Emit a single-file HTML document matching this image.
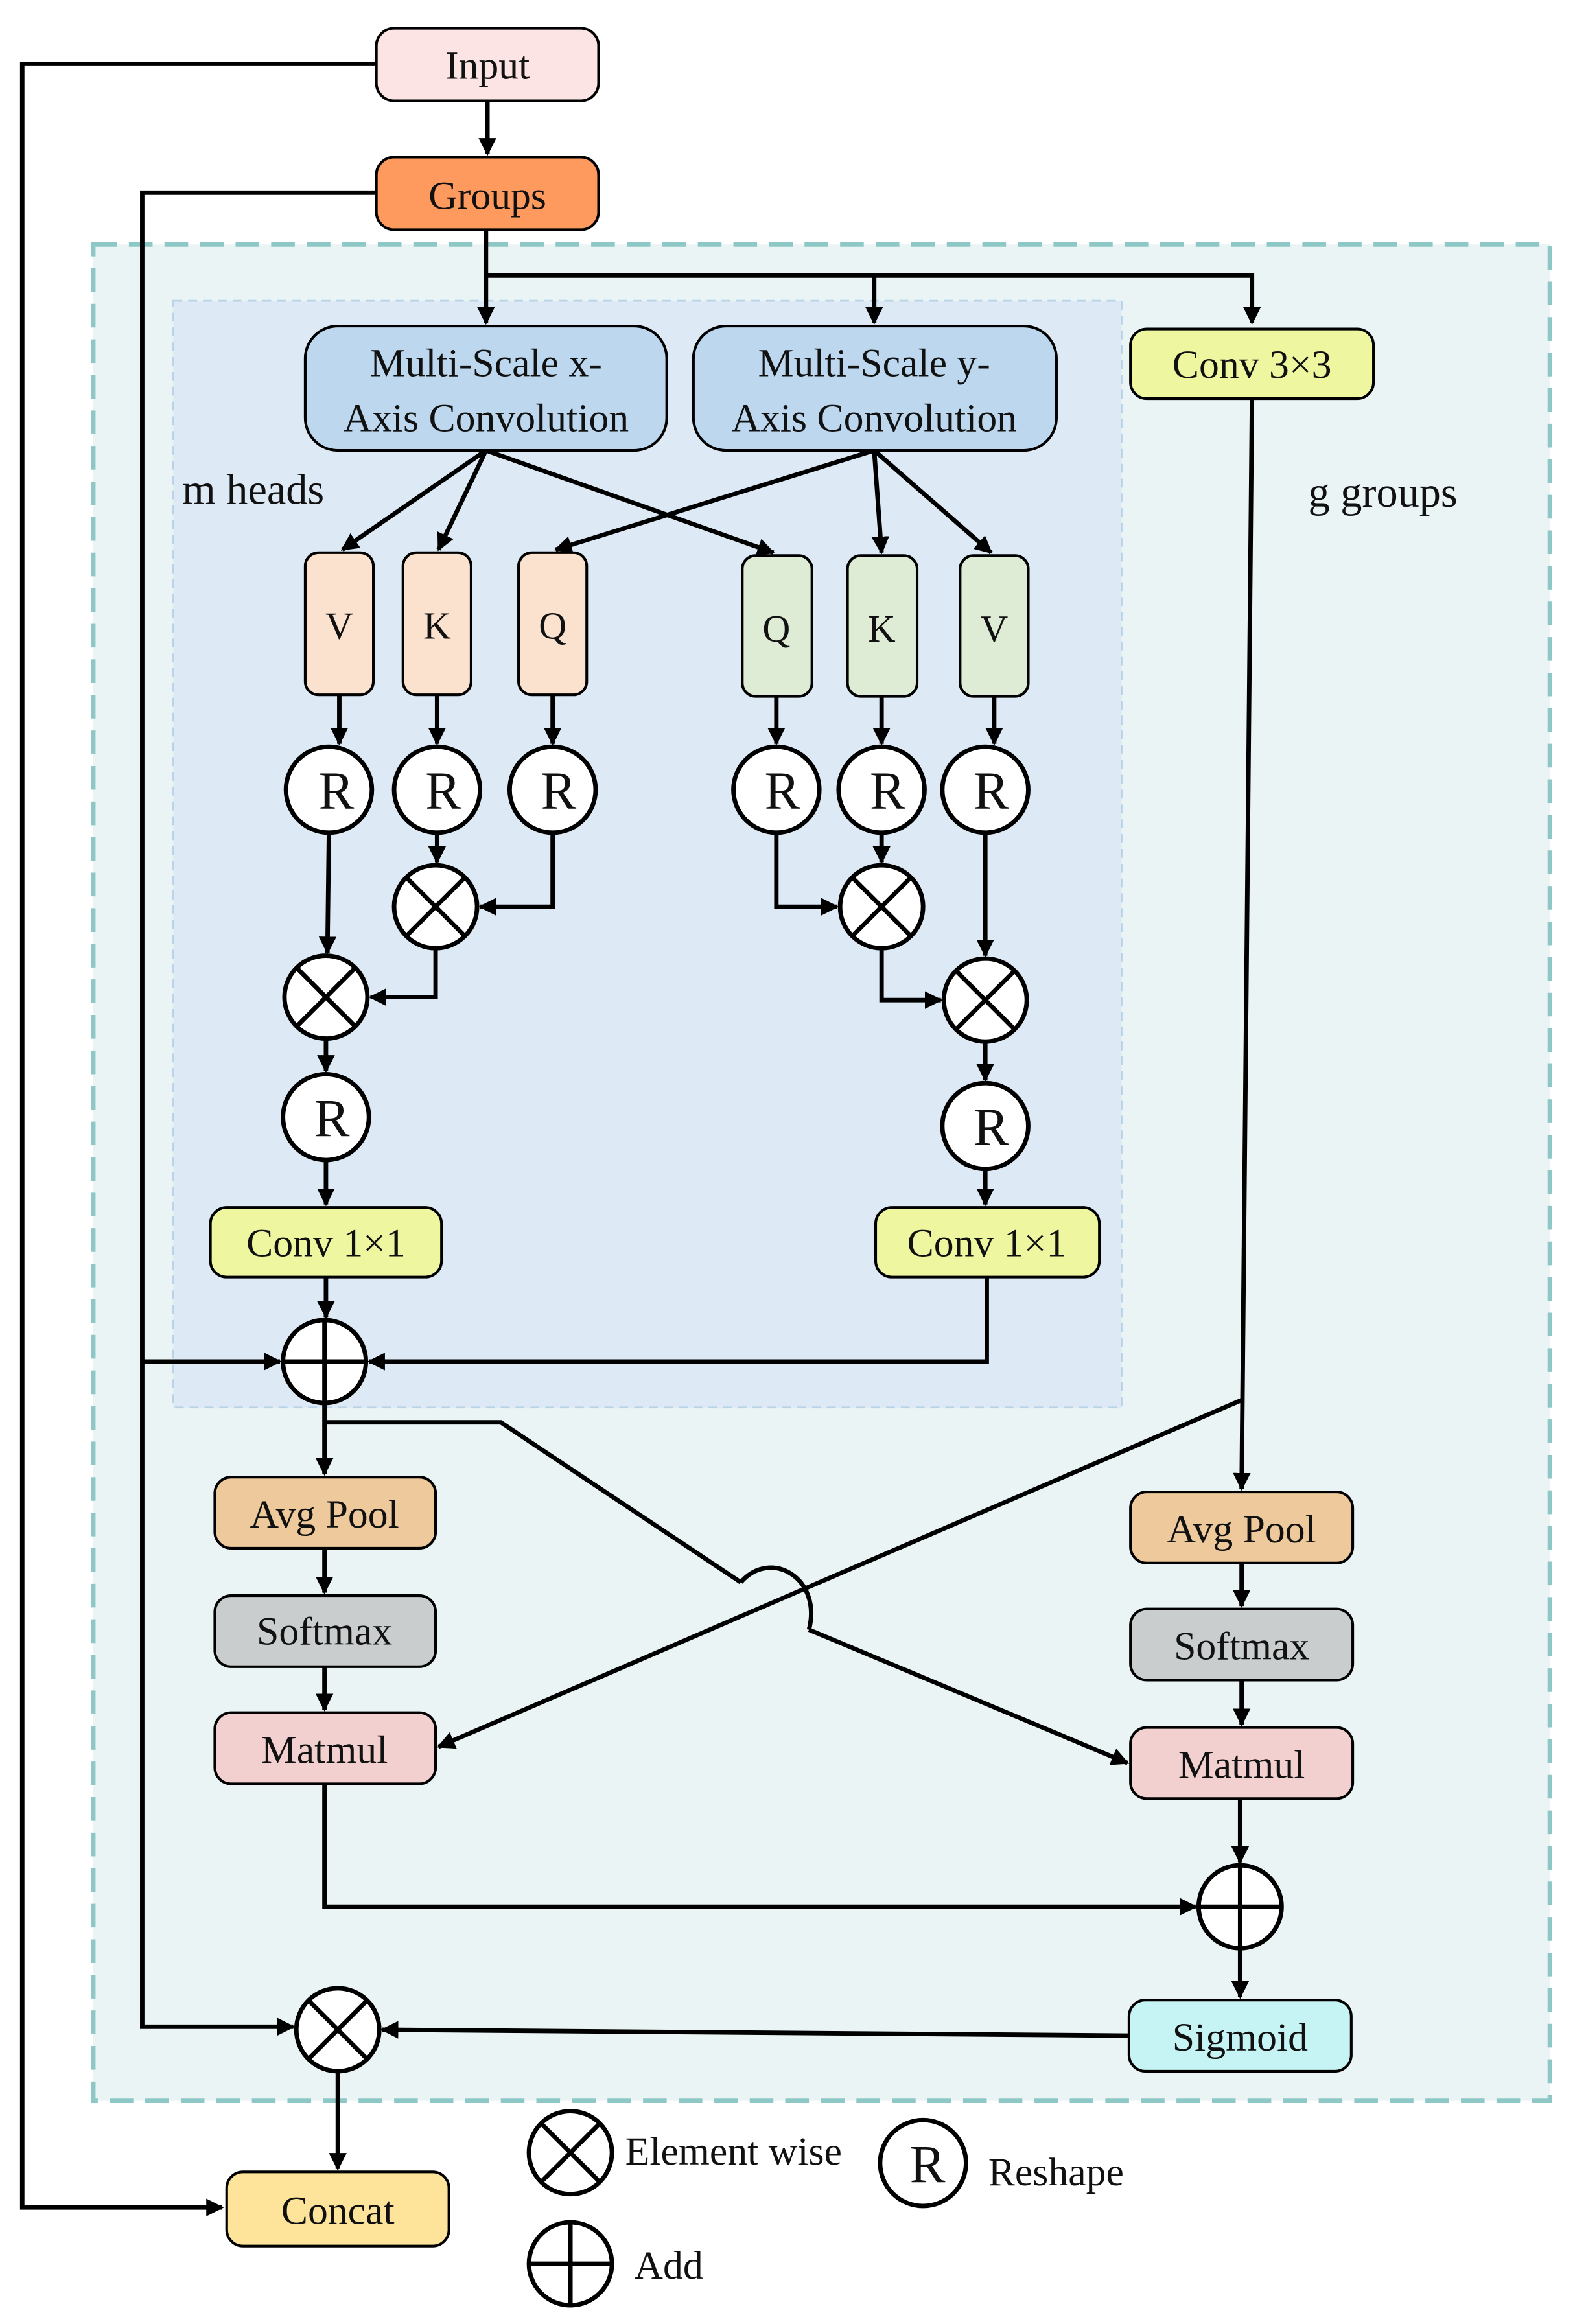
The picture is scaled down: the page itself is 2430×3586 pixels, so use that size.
<!DOCTYPE html>
<html><head><meta charset="utf-8"><style>
html,body{margin:0;padding:0;background:#fff;}
svg{display:block;}
text{font-family:"Liberation Serif",serif;fill:#111;}
</style></head><body>
<svg width="2430" height="3586" viewBox="0 0 1063 1568.6" xmlns="http://www.w3.org/2000/svg">
<defs>
<marker id="a" viewBox="0 0 10 10" refX="9" refY="5" markerWidth="4" markerHeight="4" orient="auto-start-reverse" markerUnits="strokeWidth">
<path d="M0,0 L10,5 L0,10 z" fill="#000"/></marker>
</defs>
<rect x="0" y="0" width="1063" height="1569" fill="#fff"/>
<!-- regions -->
<rect x="63" y="165" width="983" height="1253" fill="#eaf4f5" stroke="#8ec8c6" stroke-width="3" stroke-dasharray="16,8"/>
<rect x="117" y="203" width="640" height="747" fill="#dde9f4" stroke="#b8d2e6" stroke-width="1.2" stroke-dasharray="6,4"/>
<g stroke="#000" stroke-width="3" fill="none">
<!-- outer lines -->
<polyline points="254,43 15,43 15,1490 150,1490" marker-end="url(#a)"/>
<polyline points="254,130 96,130 96,1368 198,1368" marker-end="url(#a)"/>
<polyline points="96,919 189,919" marker-end="url(#a)"/>
<line x1="329" y1="68" x2="329" y2="104" marker-end="url(#a)"/>
<line x1="328" y1="155" x2="328" y2="218" marker-end="url(#a)"/>
<polyline points="328,186 845,186 845,218" marker-end="url(#a)"/>
<line x1="590" y1="186" x2="590" y2="218" marker-end="url(#a)"/>
<!-- fan -->
<line x1="328" y1="304" x2="231" y2="371" marker-end="url(#a)"/>
<line x1="328" y1="304" x2="296" y2="371" marker-end="url(#a)"/>
<line x1="328" y1="304" x2="522" y2="373" marker-end="url(#a)"/>
<line x1="590" y1="304" x2="375" y2="371" marker-end="url(#a)"/>
<line x1="590" y1="304" x2="595" y2="373" marker-end="url(#a)"/>
<line x1="590" y1="304" x2="669" y2="373" marker-end="url(#a)"/>
<!-- QKV to R -->
<line x1="229" y1="469" x2="229" y2="502" marker-end="url(#a)"/>
<line x1="295" y1="469" x2="295" y2="502" marker-end="url(#a)"/>
<line x1="373" y1="469" x2="373" y2="502" marker-end="url(#a)"/>
<line x1="524" y1="470" x2="524" y2="502" marker-end="url(#a)"/>
<line x1="595" y1="470" x2="595" y2="502" marker-end="url(#a)"/>
<line x1="671" y1="470" x2="671" y2="502" marker-end="url(#a)"/>
<!-- left path -->
<line x1="222" y1="562" x2="221" y2="643" marker-end="url(#a)"/>
<line x1="295" y1="562" x2="295" y2="582" marker-end="url(#a)"/>
<polyline points="373,562 373,612 324,612" marker-end="url(#a)"/>
<polyline points="294,640 294,673 250,673" marker-end="url(#a)"/>
<line x1="220" y1="701" x2="220" y2="723" marker-end="url(#a)"/>
<line x1="220" y1="783" x2="220" y2="813" marker-end="url(#a)"/>
<line x1="220" y1="862" x2="220" y2="889" marker-end="url(#a)"/>
<!-- right path -->
<polyline points="524,562 524,612 565,612" marker-end="url(#a)"/>
<line x1="595" y1="562" x2="595" y2="582" marker-end="url(#a)"/>
<polyline points="595,640 595,675 635,675" marker-end="url(#a)"/>
<line x1="665" y1="562" x2="665" y2="645" marker-end="url(#a)"/>
<line x1="665" y1="703" x2="665" y2="729" marker-end="url(#a)"/>
<line x1="665" y1="789" x2="665" y2="813" marker-end="url(#a)"/>
<polyline points="666,862 666,919 249,919" marker-end="url(#a)"/>
<!-- lower -->
<line x1="219" y1="947" x2="219" y2="995" marker-end="url(#a)"/>
<polyline points="219,960 338,960 500,1068"/>
<path d="M500,1068 C520,1045 555,1065 546,1100"/>
<line x1="546" y1="1100" x2="761" y2="1190" marker-end="url(#a)"/>
<line x1="845" y1="269" x2="838" y2="1005" marker-end="url(#a)"/>
<line x1="838" y1="945" x2="296" y2="1179" marker-end="url(#a)"/>
<line x1="219" y1="1045" x2="219" y2="1075" marker-end="url(#a)"/>
<line x1="219" y1="1125" x2="219" y2="1154" marker-end="url(#a)"/>
<line x1="838" y1="1055" x2="838" y2="1084" marker-end="url(#a)"/>
<line x1="838" y1="1134" x2="838" y2="1164" marker-end="url(#a)"/>
<polyline points="219,1204 219,1287 807,1287" marker-end="url(#a)"/>
<line x1="837" y1="1214" x2="837" y2="1257" marker-end="url(#a)"/>
<line x1="837" y1="1315" x2="837" y2="1348" marker-end="url(#a)"/>
<line x1="762" y1="1374" x2="258" y2="1370" marker-end="url(#a)"/>
<line x1="228" y1="1398" x2="228" y2="1464" marker-end="url(#a)"/>
</g>
<!-- boxes -->
<g stroke="#000" stroke-width="1.8">
<rect x="254" y="19" width="150" height="49" rx="12" fill="#fce4e4"/>
<rect x="254" y="106" width="150" height="49" rx="12" fill="#fe9a5e"/>
<rect x="206" y="220" width="244" height="84" rx="22" fill="#bcd7ee"/>
<rect x="468" y="220" width="245" height="84" rx="22" fill="#bcd7ee"/>
<rect x="763" y="222" width="164" height="47" rx="11" fill="#eef6a0"/>
<rect x="206" y="373" width="46" height="96" rx="9" fill="#fae2cf"/>
<rect x="272" y="373" width="46" height="96" rx="9" fill="#fae2cf"/>
<rect x="350" y="373" width="46" height="96" rx="9" fill="#fae2cf"/>
<rect x="501" y="375" width="47" height="95" rx="9" fill="#dfecd5"/>
<rect x="572" y="375" width="47" height="95" rx="9" fill="#dfecd5"/>
<rect x="648" y="375" width="46" height="95" rx="9" fill="#dfecd5"/>
<rect x="142" y="815" width="156" height="47" rx="11" fill="#eef6a0"/>
<rect x="591" y="815" width="151" height="47" rx="11" fill="#eef6a0"/>
<rect x="145" y="997" width="149" height="48" rx="11" fill="#eec99b"/>
<rect x="145" y="1077" width="149" height="48" rx="11" fill="#c9cdcd"/>
<rect x="145" y="1156" width="149" height="48" rx="11" fill="#f3d0d0"/>
<rect x="763" y="1007" width="150" height="48" rx="11" fill="#eec99b"/>
<rect x="763" y="1086" width="150" height="48" rx="11" fill="#c9cdcd"/>
<rect x="763" y="1166" width="150" height="48" rx="11" fill="#f3d0d0"/>
<rect x="762" y="1350" width="150" height="48" rx="11" fill="#c6f3f3"/>
<rect x="153" y="1466" width="150" height="50" rx="11" fill="#fee49b"/>
</g>
<!-- circles -->
<g stroke="#000" stroke-width="3" fill="#fff">
<circle cx="222" cy="533" r="29"/><circle cx="295" cy="533" r="29"/><circle cx="373" cy="533" r="29"/>
<circle cx="524" cy="533" r="29"/><circle cx="595" cy="533" r="29"/><circle cx="665" cy="533" r="29"/>
<circle cx="220" cy="754" r="29"/><circle cx="665" cy="760" r="29"/>
<circle cx="623" cy="1460" r="29"/>
</g>
<g stroke="#000" stroke-width="3" fill="#fff">
<g transform="translate(294,612)"><circle r="28"/><path d="M-19.8,-19.8 L19.8,19.8 M19.8,-19.8 L-19.8,19.8"/></g>
<g transform="translate(220,673)"><circle r="28"/><path d="M-19.8,-19.8 L19.8,19.8 M19.8,-19.8 L-19.8,19.8"/></g>
<g transform="translate(595,612)"><circle r="28"/><path d="M-19.8,-19.8 L19.8,19.8 M19.8,-19.8 L-19.8,19.8"/></g>
<g transform="translate(665,675)"><circle r="28"/><path d="M-19.8,-19.8 L19.8,19.8 M19.8,-19.8 L-19.8,19.8"/></g>
<g transform="translate(228,1370)"><circle r="28"/><path d="M-19.8,-19.8 L19.8,19.8 M19.8,-19.8 L-19.8,19.8"/></g>
<g transform="translate(385,1453)"><circle r="28"/><path d="M-19.8,-19.8 L19.8,19.8 M19.8,-19.8 L-19.8,19.8"/></g>
<g transform="translate(219,919)"><circle r="28"/><path d="M-28,0 L28,0 M0,-28 L0,28"/></g>
<g transform="translate(837,1287)"><circle r="28"/><path d="M-28,0 L28,0 M0,-28 L0,28"/></g>
<g transform="translate(385,1528)"><circle r="28"/><path d="M-28,0 L28,0 M0,-28 L0,28"/></g>
</g>
<!-- text -->
<g font-size="27" text-anchor="middle">
<text x="329" y="53">Input</text>
<text x="329" y="141">Groups</text>
<text x="328" y="254">Multi-Scale x-</text>
<text x="328" y="291">Axis Convolution</text>
<text x="590" y="254">Multi-Scale y-</text>
<text x="590" y="291">Axis Convolution</text>
<text x="845" y="255">Conv 3×3</text>
<text x="220" y="848">Conv 1×1</text>
<text x="666" y="848">Conv 1×1</text>
<text x="219" y="1031">Avg Pool</text>
<text x="219" y="1110">Softmax</text>
<text x="219" y="1190">Matmul</text>
<text x="838" y="1041">Avg Pool</text>
<text x="838" y="1120">Softmax</text>
<text x="838" y="1200">Matmul</text>
<text x="837" y="1384">Sigmoid</text>
<text x="228" y="1501">Concat</text>
</g>
<g font-size="26" text-anchor="middle">
<text x="229" y="431">V</text><text x="295" y="431">K</text><text x="373" y="431">Q</text>
<text x="524" y="433">Q</text><text x="595" y="433">K</text><text x="671" y="433">V</text>
</g>
<g font-size="36" text-anchor="middle">
<text x="227" y="546">R</text><text x="299" y="546">R</text><text x="377" y="546">R</text>
<text x="528" y="546">R</text><text x="599" y="546">R</text><text x="669" y="546">R</text>
<text x="224" y="767">R</text><text x="669" y="773">R</text>
<text x="626" y="1473">R</text>
</g>
<g font-size="29">
<text x="123" y="340">m heads</text>
<text x="883" y="342">g groups</text>
</g>
<g font-size="27">
<text x="422" y="1461">Element wise</text>
<text x="667" y="1475">Reshape</text>
<text x="428" y="1538">Add</text>
</g>
</svg>
</body></html>
